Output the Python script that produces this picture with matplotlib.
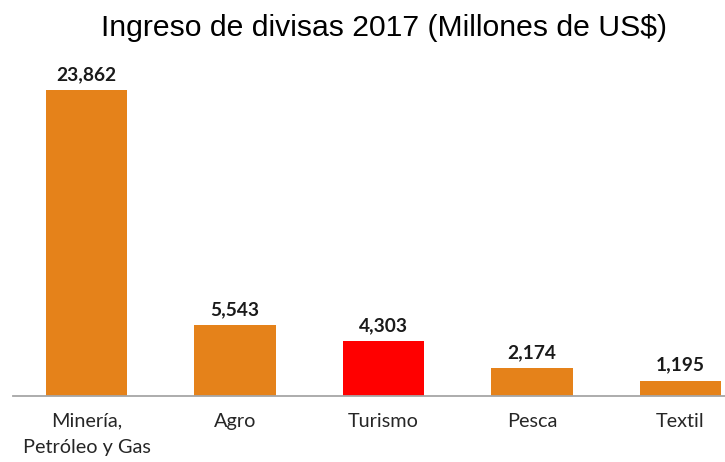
import matplotlib
matplotlib.use("Agg")
import matplotlib.pyplot as plt

categories = ["Minería,\nPetróleo y Gas", "Agro", "Turismo", "Pesca", "Textil"]
values = [23862, 5543, 4303, 2174, 1195]
value_labels = ["23,862", "5,543", "4,303", "2,174", "1,195"]
colors = ["#E5821A", "#E5821A", "#FF0000", "#E5821A", "#E5821A"]
title = "Ingreso de divisas 2017 (Millones de US$)"

fig = plt.figure(figsize=(7.25, 4.62), dpi=100)
ax = fig.add_axes([13/725, 66/462, 712/725, 336/462])
x = list(range(len(categories)))
ax.bar(x, values, width=0.55, color=colors, zorder=2)
ax.set_xlim(-0.495, 4.30)
ax.set_ylim(0, 336 * 23862 / 306)
for xi, v, lab in zip(x, values, value_labels):
    ax.annotate(lab, (xi, v), xytext=(0, 5), textcoords="offset points",
                ha="center", va="bottom", fontsize=13.8, fontweight="bold",
                family="Lato", color="#1a1a1a")
for s in ["top", "right", "left"]:
    ax.spines[s].set_visible(False)
ax.spines["bottom"].set_color("#a6a6a6")
ax.spines["bottom"].set_linewidth(1.3)
ax.set_yticks([])
ax.set_xticks(x)
ax.set_xticklabels(categories, family="Lato", fontsize=14.3, color="#262626",
                   linespacing=1.7, va="top")
ax.tick_params(axis="x", length=0, pad=12)
fig.text(0.530, 1 - 36/462, title, ha="center", va="baseline", fontsize=21.7,
         family="Liberation Sans", color="black")
fig.savefig("out.png", dpi=100)
